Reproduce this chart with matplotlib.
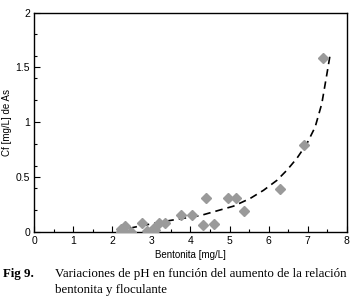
import matplotlib
matplotlib.use("Agg")
import matplotlib.pyplot as plt
import numpy as np

plt.rcParams["font.family"] = ["Liberation Sans", "DejaVu Sans"]

# measured points: bentonita dose vs residual As
bent = [2.23, 2.23, 2.32, 2.32, 2.49, 2.76, 2.89, 3.08, 3.09, 3.19, 3.36,
        3.75, 4.04, 4.33, 4.41, 4.60, 4.95, 5.17, 5.36, 6.30, 6.91, 7.38]
cf = [0.03, 0.0, 0.05, 0.0, 0.0, 0.078, 0.005, 0.038, 0.015, 0.085, 0.078,
      0.15, 0.15, 0.06, 0.31, 0.075, 0.31, 0.31, 0.19, 0.39, 0.79, 1.59]

# trend curve
fit_x = [2.13, 2.72, 3.40, 4.26, 5.10, 5.53, 5.87, 6.21, 6.47, 6.72, 6.98,
         7.19, 7.36, 7.49, 7.57]
fit_y = [0.01, 0.055, 0.10, 0.15, 0.235, 0.306, 0.38, 0.47, 0.564, 0.67,
         0.806, 0.957, 1.17, 1.44, 1.61]

fig = plt.figure(figsize=(3.55, 3.06), dpi=100)
ax = fig.add_axes([0.096, 0.242, 0.881, 0.717])

ax.plot(fit_x, fit_y, color="black", lw=1.2, dashes=(4.5, 3), zorder=2)
ax.plot(bent, cf, ls="none", marker="D", ms=5, color="#9a9a9a", zorder=3)

ax.set_xlim(0, 8)
ax.set_ylim(0, 2)
ax.set_xticks(range(0, 9))
ax.set_yticks([0, 0.5, 1, 1.5, 2])
ax.set_yticklabels(["0", "0.5", "1", "1.5", "2"])
ax.set_xticks(np.arange(0.5, 8, 1), minor=True)
ax.set_yticks([0.2, 0.4, 0.6, 0.8, 1.2, 1.4, 1.6, 1.8], minor=True)
ax.tick_params(which="both", direction="in", top=False, right=False,
               labelsize=7.5, pad=3)
ax.tick_params(which="major", length=4, width=0.8)
ax.tick_params(which="minor", length=2.5, width=0.8)
for s in ax.spines.values():
    s.set_linewidth(1.0)

ax.set_xlabel("Bentonita [mg/L]", fontsize=7, labelpad=3)
ax.set_ylabel("Cf [mg/L] de As", fontsize=7)
ax.yaxis.set_label_coords(-0.072, 0.5)

cap = dict(family="Liberation Serif", fontsize=9.3, va="baseline")
fig.text(0.008, 0.095, "Fig 9.", fontweight="bold", **cap)
fig.text(0.155, 0.095, "Variaciones de pH en función del aumento de la relación",
         **cap)
fig.text(0.155, 0.042, "bentonita y floculante", **cap)

fig.savefig("out.png", dpi=100)
